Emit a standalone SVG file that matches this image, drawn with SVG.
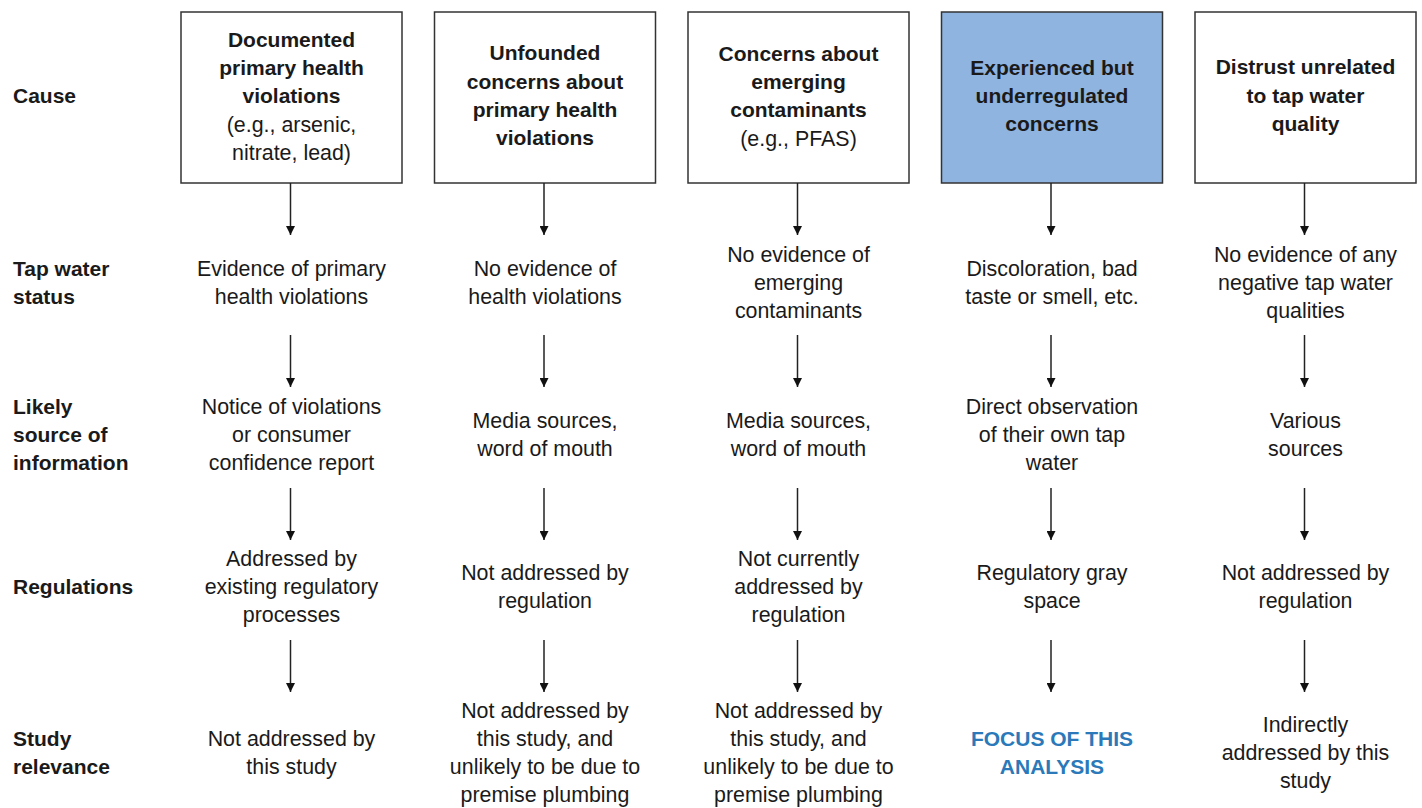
<svg xmlns="http://www.w3.org/2000/svg" width="1422" height="808" viewBox="0 0 1422 808">
<defs>
<style>
text{font-family:"Liberation Sans",Arial,sans-serif;font-size:21.4px;fill:#1a1a1a}
.b{font-weight:bold;font-size:21px}
.c{text-anchor:middle}
.box{fill:#fff;stroke:#333;stroke-width:1.5}
.hl{fill:#8fb4e0}
.blue{fill:#2b79b9;font-weight:bold;font-size:21px}
.arr{stroke:#222;stroke-width:1.5;marker-end:url(#ah)}
</style>
<marker id="ah" viewBox="0 0 10 10" refX="10" refY="5" markerWidth="9" markerHeight="9" markerUnits="userSpaceOnUse" orient="auto">
<path d="M0,0 L10,5 L0,10 z" fill="#111"/>
</marker>
</defs>
<rect width="1422" height="808" fill="#fff"/>

<g id="row-labels">
<text class="b" x="13" y="103">Cause</text>
<text class="b" x="13" y="276">Tap water</text>
<text class="b" x="13" y="304">status</text>
<text class="b" x="13" y="414">Likely</text>
<text class="b" x="13" y="442">source of</text>
<text class="b" x="13" y="470">information</text>
<text class="b" x="13" y="594">Regulations</text>
<text class="b" x="13" y="746">Study</text>
<text class="b" x="13" y="774">relevance</text>
</g>

<g id="cause1">
<rect class="box" x="181" y="12" width="221" height="171"/>
<text class="c b" x="291.5" y="47">Documented</text>
<text class="c b" x="291.5" y="75">primary health</text>
<text class="c b" x="291.5" y="103">violations</text>
<text class="c" x="291.5" y="132">(e.g., arsenic,</text>
<text class="c" x="291.5" y="160">nitrate, lead)</text>
</g>
<g id="cause2">
<rect class="box" x="434.5" y="12" width="221" height="171"/>
<text class="c b" x="545" y="60">Unfounded</text>
<text class="c b" x="545" y="89">concerns about</text>
<text class="c b" x="545" y="117">primary health</text>
<text class="c b" x="545" y="145">violations</text>
</g>
<g id="cause3">
<rect class="box" x="688" y="12" width="221" height="171"/>
<text class="c b" x="798.5" y="61">Concerns about</text>
<text class="c b" x="798.5" y="89">emerging</text>
<text class="c b" x="798.5" y="117">contaminants</text>
<text class="c" x="798.5" y="146">(e.g., PFAS)</text>
</g>
<g id="cause4">
<rect class="box hl" x="941.5" y="12" width="221" height="171"/>
<text class="c b" x="1052" y="75">Experienced but</text>
<text class="c b" x="1052" y="103">underregulated</text>
<text class="c b" x="1052" y="131">concerns</text>
</g>
<g id="cause5">
<rect class="box" x="1195" y="12" width="221" height="171"/>
<text class="c b" x="1305.5" y="74">Distrust unrelated</text>
<text class="c b" x="1305.5" y="103">to tap water</text>
<text class="c b" x="1305.5" y="131">quality</text>
</g>

<g id="status1" class="c"><text x="291.5" y="276">Evidence of primary</text><text x="291.5" y="304">health violations</text></g>
<g id="status2" class="c"><text x="545" y="276">No evidence of</text><text x="545" y="304">health violations</text></g>
<g id="status3" class="c"><text x="798.5" y="262">No evidence of</text><text x="798.5" y="290">emerging</text><text x="798.5" y="318">contaminants</text></g>
<g id="status4" class="c"><text x="1052" y="276">Discoloration, bad</text><text x="1052" y="304">taste or smell, etc.</text></g>
<g id="status5" class="c"><text x="1305.5" y="262">No evidence of any</text><text x="1305.5" y="290">negative tap water</text><text x="1305.5" y="318">qualities</text></g>

<g id="source1" class="c"><text x="291.5" y="414">Notice of violations</text><text x="291.5" y="442">or consumer</text><text x="291.5" y="470">confidence report</text></g>
<g id="source2" class="c"><text x="545" y="428">Media sources,</text><text x="545" y="456">word of mouth</text></g>
<g id="source3" class="c"><text x="798.5" y="428">Media sources,</text><text x="798.5" y="456">word of mouth</text></g>
<g id="source4" class="c"><text x="1052" y="414">Direct observation</text><text x="1052" y="442">of their own tap</text><text x="1052" y="470">water</text></g>
<g id="source5" class="c"><text x="1305.5" y="428">Various</text><text x="1305.5" y="456">sources</text></g>

<g id="reg1" class="c"><text x="291.5" y="566">Addressed by</text><text x="291.5" y="594">existing regulatory</text><text x="291.5" y="622">processes</text></g>
<g id="reg2" class="c"><text x="545" y="580">Not addressed by</text><text x="545" y="608">regulation</text></g>
<g id="reg3" class="c"><text x="798.5" y="566">Not currently</text><text x="798.5" y="594">addressed by</text><text x="798.5" y="622">regulation</text></g>
<g id="reg4" class="c"><text x="1052" y="580">Regulatory gray</text><text x="1052" y="608">space</text></g>
<g id="reg5" class="c"><text x="1305.5" y="580">Not addressed by</text><text x="1305.5" y="608">regulation</text></g>

<g id="rel1" class="c"><text x="291.5" y="746">Not addressed by</text><text x="291.5" y="774">this study</text></g>
<g id="rel2" class="c"><text x="545" y="718">Not addressed by</text><text x="545" y="746">this study, and</text><text x="545" y="774">unlikely to be due to</text><text x="545" y="802">premise plumbing</text></g>
<g id="rel3" class="c"><text x="798.5" y="718">Not addressed by</text><text x="798.5" y="746">this study, and</text><text x="798.5" y="774">unlikely to be due to</text><text x="798.5" y="802">premise plumbing</text></g>
<g id="rel4" class="c"><text class="blue" x="1052" y="746">FOCUS OF THIS</text><text class="blue" x="1052" y="774">ANALYSIS</text></g>
<g id="rel5" class="c"><text x="1305.5" y="732">Indirectly</text><text x="1305.5" y="760">addressed by this</text><text x="1305.5" y="788">study</text></g>

<g id="connectors">
<line class="arr" x1="290.5" y1="183" x2="290.5" y2="235"/>
<line class="arr" x1="544" y1="183" x2="544" y2="235"/>
<line class="arr" x1="797.5" y1="183" x2="797.5" y2="235"/>
<line class="arr" x1="1051" y1="183" x2="1051" y2="235"/>
<line class="arr" x1="1304.5" y1="183" x2="1304.5" y2="235"/>

<line class="arr" x1="290.5" y1="335" x2="290.5" y2="387"/>
<line class="arr" x1="544" y1="335" x2="544" y2="387"/>
<line class="arr" x1="797.5" y1="335" x2="797.5" y2="387"/>
<line class="arr" x1="1051" y1="335" x2="1051" y2="387"/>
<line class="arr" x1="1304.5" y1="335" x2="1304.5" y2="387"/>

<line class="arr" x1="290.5" y1="488" x2="290.5" y2="540"/>
<line class="arr" x1="544" y1="488" x2="544" y2="540"/>
<line class="arr" x1="797.5" y1="488" x2="797.5" y2="540"/>
<line class="arr" x1="1051" y1="488" x2="1051" y2="540"/>
<line class="arr" x1="1304.5" y1="488" x2="1304.5" y2="540"/>

<line class="arr" x1="290.5" y1="640" x2="290.5" y2="692"/>
<line class="arr" x1="544" y1="640" x2="544" y2="692"/>
<line class="arr" x1="797.5" y1="640" x2="797.5" y2="692"/>
<line class="arr" x1="1051" y1="640" x2="1051" y2="692"/>
<line class="arr" x1="1304.5" y1="640" x2="1304.5" y2="692"/>
</g>
</svg>
